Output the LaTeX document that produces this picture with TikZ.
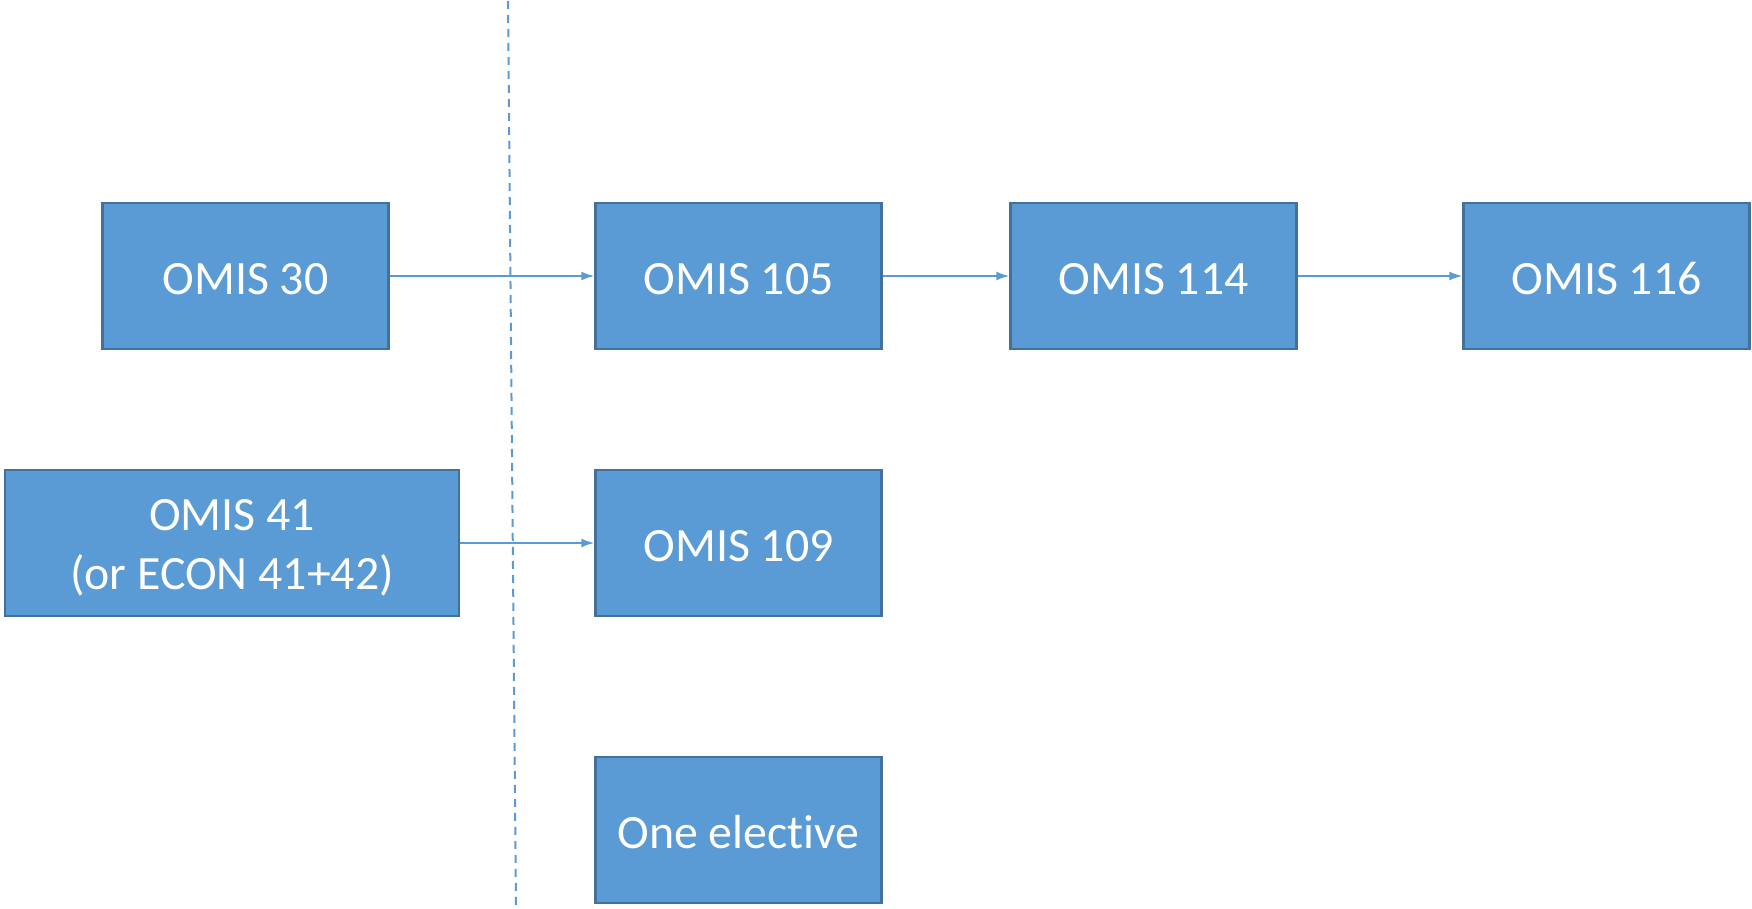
\documentclass[tikz,border=0pt]{standalone}
\usepackage{fontspec}
\setmainfont{Carlito}[Ligatures=NoCommon]
\usetikzlibrary{arrows.meta}
\definecolor{boxfill}{HTML}{5B9BD5}
\definecolor{boxline}{HTML}{41719C}
\begin{document}
\begin{tikzpicture}[x=1bp, y=-1bp]
            \tikzstyle{course}=[draw=boxline, fill=boxfill, line width=2.5bp, text=white, minimum width=286bp, minimum height=146bp, align=center, font=\fontsize{48}{59}\selectfont]
            \tikzstyle{oneline}=[course, text height=36bp, text depth=0bp]
            \tikzstyle{prereq}=[boxfill, line width=1.6bp, -{Latex[length=13bp, width=9bp]}]
            \useasboundingbox (0, 0) rectangle (1752, 908);
            \coordinate (divtop) at (508, 1);
            \coordinate (divbottom) at (516, 908);
            \draw [boxfill, line width=2bp, dash pattern=on 8bp off 6bp] (divtop) -- (divbottom);
            \node [oneline] (omis30) at (245.5, 276) {OMIS 30};
            \node [oneline] (omis105) at (738.5, 276) {OMIS 105};
            \node [oneline] (omis114) at (1153.5, 276) {OMIS 114};
            \node [oneline] (omis116) at (1606.5, 276) {OMIS 116};
            \node [course, minimum width=454bp, text height=100bp] (omis41) at (232, 543) {OMIS 41\\(or ECON 41+42)};
            \node [oneline] (omis109) at (738.5, 543) {OMIS 109};
            \node [oneline] (elective) at (738.5, 830) {One elective};
            \draw [prereq] (omis30) -- (omis105);
            \draw [prereq] (omis105) -- (omis114);
            \draw [prereq] (omis114) -- (omis116);
            \draw [prereq] (omis41) -- (omis109);
        \end{tikzpicture}
\end{document}
